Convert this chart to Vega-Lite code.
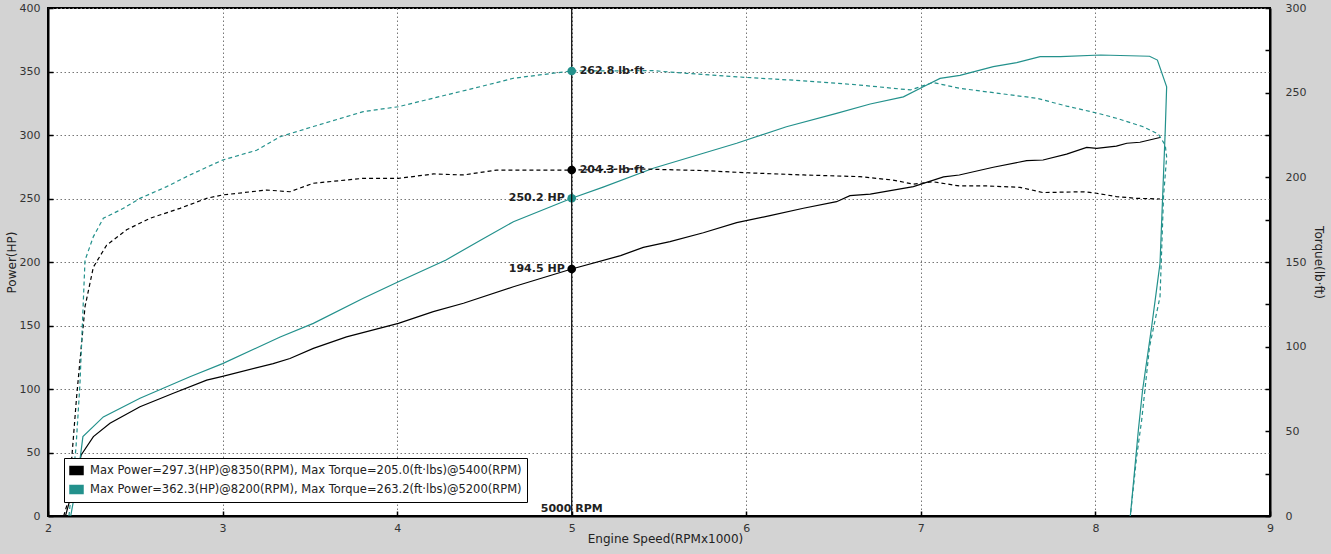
{
  "$schema": "https://vega.github.io/schema/vega-lite/v6.json",
  "width": 1222,
  "height": 508,
  "autosize": {"type": "none"},
  "padding": {"left": 48, "top": 8, "right": 61, "bottom": 38},
  "background": "#d3d3d3",
  "config": {
    "font": "DejaVu Sans",
    "view": {"fill": "white", "stroke": "black", "strokeWidth": 2},
    "axis": {
      "labelFontSize": 11,
      "labelColor": "#333333",
      "titleFontSize": 12,
      "titleFontWeight": "normal",
      "titleColor": "#222222",
      "domainColor": "black",
      "domainWidth": 2,
      "tickColor": "black",
      "tickWidth": 1.5,
      "gridColor": "#777777",
      "gridDash": [1.5, 2.5]
    },
    "legend": {
      "labelFontSize": 11.5,
      "labelColor": "#222222"
    }
  },
  "datasets": {
    "curves": [
      {"run": "A", "kind": "power", "i": 0, "rpm": 2.10, "value": 0},
      {"run": "A", "kind": "power", "i": 1, "rpm": 2.15, "value": 25},
      {"run": "A", "kind": "power", "i": 2, "rpm": 2.19, "value": 48},
      {"run": "A", "kind": "power", "i": 3, "rpm": 2.26, "value": 62.5},
      {"run": "A", "kind": "power", "i": 4, "rpm": 2.355, "value": 73},
      {"run": "A", "kind": "power", "i": 5, "rpm": 2.527, "value": 86},
      {"run": "A", "kind": "power", "i": 6, "rpm": 2.718, "value": 96.6},
      {"run": "A", "kind": "power", "i": 7, "rpm": 2.909, "value": 107},
      {"run": "A", "kind": "power", "i": 8, "rpm": 3.0, "value": 110},
      {"run": "A", "kind": "power", "i": 9, "rpm": 3.29, "value": 120},
      {"run": "A", "kind": "power", "i": 10, "rpm": 3.386, "value": 124},
      {"run": "A", "kind": "power", "i": 11, "rpm": 3.52, "value": 132},
      {"run": "A", "kind": "power", "i": 12, "rpm": 3.71, "value": 141},
      {"run": "A", "kind": "power", "i": 13, "rpm": 4.007, "value": 151.7},
      {"run": "A", "kind": "power", "i": 14, "rpm": 4.207, "value": 160.9},
      {"run": "A", "kind": "power", "i": 15, "rpm": 4.38, "value": 167.5},
      {"run": "A", "kind": "power", "i": 16, "rpm": 4.666, "value": 180.5},
      {"run": "A", "kind": "power", "i": 17, "rpm": 5.0, "value": 194.5},
      {"run": "A", "kind": "power", "i": 18, "rpm": 5.28, "value": 205},
      {"run": "A", "kind": "power", "i": 19, "rpm": 5.41, "value": 211.5},
      {"run": "A", "kind": "power", "i": 20, "rpm": 5.563, "value": 216},
      {"run": "A", "kind": "power", "i": 21, "rpm": 5.754, "value": 223},
      {"run": "A", "kind": "power", "i": 22, "rpm": 5.945, "value": 231},
      {"run": "A", "kind": "power", "i": 23, "rpm": 6.136, "value": 236.5},
      {"run": "A", "kind": "power", "i": 24, "rpm": 6.327, "value": 242.3},
      {"run": "A", "kind": "power", "i": 25, "rpm": 6.517, "value": 247.5},
      {"run": "A", "kind": "power", "i": 26, "rpm": 6.594, "value": 252.2},
      {"run": "A", "kind": "power", "i": 27, "rpm": 6.71, "value": 253.5},
      {"run": "A", "kind": "power", "i": 28, "rpm": 6.957, "value": 259.3},
      {"run": "A", "kind": "power", "i": 29, "rpm": 7.13, "value": 267},
      {"run": "A", "kind": "power", "i": 30, "rpm": 7.22, "value": 268.5},
      {"run": "A", "kind": "power", "i": 31, "rpm": 7.415, "value": 274.6},
      {"run": "A", "kind": "power", "i": 32, "rpm": 7.606, "value": 279.8},
      {"run": "A", "kind": "power", "i": 33, "rpm": 7.70, "value": 280.3},
      {"run": "A", "kind": "power", "i": 34, "rpm": 7.835, "value": 285},
      {"run": "A", "kind": "power", "i": 35, "rpm": 7.95, "value": 290.3},
      {"run": "A", "kind": "power", "i": 36, "rpm": 8.007, "value": 289.5},
      {"run": "A", "kind": "power", "i": 37, "rpm": 8.12, "value": 291.3},
      {"run": "A", "kind": "power", "i": 38, "rpm": 8.18, "value": 293.5},
      {"run": "A", "kind": "power", "i": 39, "rpm": 8.255, "value": 294.3},
      {"run": "A", "kind": "power", "i": 40, "rpm": 8.37, "value": 298},

      {"run": "A", "kind": "torque", "i": 0, "rpm": 2.09, "value": 0},
      {"run": "A", "kind": "torque", "i": 1, "rpm": 2.117, "value": 9.4},
      {"run": "A", "kind": "torque", "i": 2, "rpm": 2.164, "value": 70.5},
      {"run": "A", "kind": "torque", "i": 3, "rpm": 2.212, "value": 123.6},
      {"run": "A", "kind": "torque", "i": 4, "rpm": 2.26, "value": 147},
      {"run": "A", "kind": "torque", "i": 5, "rpm": 2.336, "value": 160},
      {"run": "A", "kind": "torque", "i": 6, "rpm": 2.45, "value": 169},
      {"run": "A", "kind": "torque", "i": 7, "rpm": 2.584, "value": 175.8},
      {"run": "A", "kind": "torque", "i": 8, "rpm": 2.756, "value": 181.7},
      {"run": "A", "kind": "torque", "i": 9, "rpm": 2.909, "value": 187.6},
      {"run": "A", "kind": "torque", "i": 10, "rpm": 3.0, "value": 189.6},
      {"run": "A", "kind": "torque", "i": 11, "rpm": 3.253, "value": 192.5},
      {"run": "A", "kind": "torque", "i": 12, "rpm": 3.386, "value": 191.5},
      {"run": "A", "kind": "torque", "i": 13, "rpm": 3.52, "value": 196.5},
      {"run": "A", "kind": "torque", "i": 14, "rpm": 3.806, "value": 199.4},
      {"run": "A", "kind": "torque", "i": 15, "rpm": 4.007, "value": 199.4},
      {"run": "A", "kind": "torque", "i": 16, "rpm": 4.21, "value": 202},
      {"run": "A", "kind": "torque", "i": 17, "rpm": 4.38, "value": 201.4},
      {"run": "A", "kind": "torque", "i": 18, "rpm": 4.57, "value": 204.3},
      {"run": "A", "kind": "torque", "i": 19, "rpm": 5.0, "value": 204.3},
      {"run": "A", "kind": "torque", "i": 20, "rpm": 5.37, "value": 205},
      {"run": "A", "kind": "torque", "i": 21, "rpm": 5.754, "value": 204},
      {"run": "A", "kind": "torque", "i": 22, "rpm": 6.0, "value": 202.7},
      {"run": "A", "kind": "torque", "i": 23, "rpm": 6.327, "value": 201.4},
      {"run": "A", "kind": "torque", "i": 24, "rpm": 6.65, "value": 200.4},
      {"run": "A", "kind": "torque", "i": 25, "rpm": 6.84, "value": 198.4},
      {"run": "A", "kind": "torque", "i": 26, "rpm": 6.957, "value": 196},
      {"run": "A", "kind": "torque", "i": 27, "rpm": 7.07, "value": 197.4},
      {"run": "A", "kind": "torque", "i": 28, "rpm": 7.22, "value": 194.9},
      {"run": "A", "kind": "torque", "i": 29, "rpm": 7.377, "value": 194.9},
      {"run": "A", "kind": "torque", "i": 30, "rpm": 7.568, "value": 194.1},
      {"run": "A", "kind": "torque", "i": 31, "rpm": 7.70, "value": 191},
      {"run": "A", "kind": "torque", "i": 32, "rpm": 7.93, "value": 191.5},
      {"run": "A", "kind": "torque", "i": 33, "rpm": 8.007, "value": 190.6},
      {"run": "A", "kind": "torque", "i": 34, "rpm": 8.12, "value": 188.6},
      {"run": "A", "kind": "torque", "i": 35, "rpm": 8.235, "value": 187.6},
      {"run": "A", "kind": "torque", "i": 36, "rpm": 8.37, "value": 187.2},

      {"run": "B", "kind": "power", "i": 0, "rpm": 2.13, "value": 0},
      {"run": "B", "kind": "power", "i": 1, "rpm": 2.17, "value": 30},
      {"run": "B", "kind": "power", "i": 2, "rpm": 2.2, "value": 62.5},
      {"run": "B", "kind": "power", "i": 3, "rpm": 2.317, "value": 78},
      {"run": "B", "kind": "power", "i": 4, "rpm": 2.527, "value": 92.7},
      {"run": "B", "kind": "power", "i": 5, "rpm": 2.813, "value": 109.7},
      {"run": "B", "kind": "power", "i": 6, "rpm": 3.0, "value": 120},
      {"run": "B", "kind": "power", "i": 7, "rpm": 3.33, "value": 141},
      {"run": "B", "kind": "power", "i": 8, "rpm": 3.52, "value": 151.7},
      {"run": "B", "kind": "power", "i": 9, "rpm": 3.806, "value": 171.4},
      {"run": "B", "kind": "power", "i": 10, "rpm": 4.007, "value": 184.5},
      {"run": "B", "kind": "power", "i": 11, "rpm": 4.28, "value": 201.6},
      {"run": "B", "kind": "power", "i": 12, "rpm": 4.475, "value": 217},
      {"run": "B", "kind": "power", "i": 13, "rpm": 4.666, "value": 231.7},
      {"run": "B", "kind": "power", "i": 14, "rpm": 5.0, "value": 250.2},
      {"run": "B", "kind": "power", "i": 15, "rpm": 5.18, "value": 259},
      {"run": "B", "kind": "power", "i": 16, "rpm": 5.467, "value": 273.8},
      {"run": "B", "kind": "power", "i": 17, "rpm": 5.754, "value": 285.6},
      {"run": "B", "kind": "power", "i": 18, "rpm": 5.945, "value": 293.5},
      {"run": "B", "kind": "power", "i": 19, "rpm": 6.23, "value": 306.5},
      {"run": "B", "kind": "power", "i": 20, "rpm": 6.517, "value": 317},
      {"run": "B", "kind": "power", "i": 21, "rpm": 6.71, "value": 324.4},
      {"run": "B", "kind": "power", "i": 22, "rpm": 6.9, "value": 330},
      {"run": "B", "kind": "power", "i": 23, "rpm": 7.014, "value": 338},
      {"run": "B", "kind": "power", "i": 24, "rpm": 7.11, "value": 344.6},
      {"run": "B", "kind": "power", "i": 25, "rpm": 7.224, "value": 347},
      {"run": "B", "kind": "power", "i": 26, "rpm": 7.415, "value": 353.8},
      {"run": "B", "kind": "power", "i": 27, "rpm": 7.549, "value": 357},
      {"run": "B", "kind": "power", "i": 28, "rpm": 7.683, "value": 361.7},
      {"run": "B", "kind": "power", "i": 29, "rpm": 7.8, "value": 361.7},
      {"run": "B", "kind": "power", "i": 30, "rpm": 8.03, "value": 363},
      {"run": "B", "kind": "power", "i": 31, "rpm": 8.31, "value": 362},
      {"run": "B", "kind": "power", "i": 32, "rpm": 8.355, "value": 359},
      {"run": "B", "kind": "power", "i": 33, "rpm": 8.408, "value": 338},
      {"run": "B", "kind": "power", "i": 34, "rpm": 8.40, "value": 304},
      {"run": "B", "kind": "power", "i": 35, "rpm": 8.37, "value": 199},
      {"run": "B", "kind": "power", "i": 36, "rpm": 8.35, "value": 178},
      {"run": "B", "kind": "power", "i": 37, "rpm": 8.322, "value": 149},
      {"run": "B", "kind": "power", "i": 38, "rpm": 8.27, "value": 99},
      {"run": "B", "kind": "power", "i": 39, "rpm": 8.246, "value": 67.7},
      {"run": "B", "kind": "power", "i": 40, "rpm": 8.2, "value": 0},

      {"run": "B", "kind": "torque", "i": 0, "rpm": 2.12, "value": 0},
      {"run": "B", "kind": "torque", "i": 1, "rpm": 2.16, "value": 40},
      {"run": "B", "kind": "torque", "i": 2, "rpm": 2.183, "value": 78},
      {"run": "B", "kind": "torque", "i": 3, "rpm": 2.212, "value": 151},
      {"run": "B", "kind": "torque", "i": 4, "rpm": 2.26, "value": 165},
      {"run": "B", "kind": "torque", "i": 5, "rpm": 2.317, "value": 175.8},
      {"run": "B", "kind": "torque", "i": 6, "rpm": 2.432, "value": 181.7},
      {"run": "B", "kind": "torque", "i": 7, "rpm": 2.527, "value": 187.6},
      {"run": "B", "kind": "torque", "i": 8, "rpm": 2.68, "value": 194.5},
      {"run": "B", "kind": "torque", "i": 9, "rpm": 2.813, "value": 201.4},
      {"run": "B", "kind": "torque", "i": 10, "rpm": 3.0, "value": 210.2},
      {"run": "B", "kind": "torque", "i": 11, "rpm": 3.195, "value": 216},
      {"run": "B", "kind": "torque", "i": 12, "rpm": 3.33, "value": 224},
      {"run": "B", "kind": "torque", "i": 13, "rpm": 3.52, "value": 230},
      {"run": "B", "kind": "torque", "i": 14, "rpm": 3.806, "value": 238.8},
      {"run": "B", "kind": "torque", "i": 15, "rpm": 4.007, "value": 241.7},
      {"run": "B", "kind": "torque", "i": 16, "rpm": 4.28, "value": 248.6},
      {"run": "B", "kind": "torque", "i": 17, "rpm": 4.475, "value": 253.5},
      {"run": "B", "kind": "torque", "i": 18, "rpm": 4.666, "value": 258.5},
      {"run": "B", "kind": "torque", "i": 19, "rpm": 4.857, "value": 261},
      {"run": "B", "kind": "torque", "i": 20, "rpm": 5.0, "value": 262.8},
      {"run": "B", "kind": "torque", "i": 21, "rpm": 5.467, "value": 263},
      {"run": "B", "kind": "torque", "i": 22, "rpm": 5.658, "value": 261.4},
      {"run": "B", "kind": "torque", "i": 23, "rpm": 6.0, "value": 259},
      {"run": "B", "kind": "torque", "i": 24, "rpm": 6.327, "value": 257},
      {"run": "B", "kind": "torque", "i": 25, "rpm": 6.65, "value": 254.5},
      {"run": "B", "kind": "torque", "i": 26, "rpm": 6.94, "value": 251.6},
      {"run": "B", "kind": "torque", "i": 27, "rpm": 7.07, "value": 256},
      {"run": "B", "kind": "torque", "i": 28, "rpm": 7.22, "value": 252.6},
      {"run": "B", "kind": "torque", "i": 29, "rpm": 7.415, "value": 250},
      {"run": "B", "kind": "torque", "i": 30, "rpm": 7.663, "value": 246.7},
      {"run": "B", "kind": "torque", "i": 31, "rpm": 7.835, "value": 242.1},
      {"run": "B", "kind": "torque", "i": 32, "rpm": 8.03, "value": 237.4},
      {"run": "B", "kind": "torque", "i": 33, "rpm": 8.12, "value": 234.9},
      {"run": "B", "kind": "torque", "i": 34, "rpm": 8.27, "value": 230},
      {"run": "B", "kind": "torque", "i": 35, "rpm": 8.36, "value": 225.6},
      {"run": "B", "kind": "torque", "i": 36, "rpm": 8.40, "value": 219},
      {"run": "B", "kind": "torque", "i": 37, "rpm": 8.408, "value": 212},
      {"run": "B", "kind": "torque", "i": 38, "rpm": 8.39, "value": 188.6},
      {"run": "B", "kind": "torque", "i": 39, "rpm": 8.37, "value": 129.5},
      {"run": "B", "kind": "torque", "i": 40, "rpm": 8.31, "value": 100},
      {"run": "B", "kind": "torque", "i": 41, "rpm": 8.265, "value": 56.7},
      {"run": "B", "kind": "torque", "i": 42, "rpm": 8.236, "value": 35},
      {"run": "B", "kind": "torque", "i": 43, "rpm": 8.2, "value": 0}
    ],
    "markers": [
      {"run": "A", "kind": "power", "rpm": 5, "value": 194.5, "label": "194.5 HP"},
      {"run": "B", "kind": "power", "rpm": 5, "value": 250.2, "label": "250.2 HP"},
      {"run": "A", "kind": "torque", "rpm": 5, "value": 204.3, "label": "204.3 lb·ft"},
      {"run": "B", "kind": "torque", "rpm": 5, "value": 262.8, "label": "262.8 lb·ft"}
    ],
    "cursor": [
      {"rpm": 5, "value": 0, "label": "5000 RPM"}
    ]
  },
  "resolve": {"scale": {"y": "independent"}},
  "layer": [
    {
      "layer": [
        {
          "data": {"name": "markers"},
          "transform": [{"filter": "datum.kind == 'power'"}],
          "mark": {"type": "point", "filled": true, "size": 75, "opacity": 1},
          "encoding": {
            "x": {
              "field": "rpm", "type": "quantitative",
              "scale": {"domain": [2, 9], "nice": false, "zero": false},
              "axis": {
                "orient": "bottom",
                "title": "Engine Speed(RPMx1000)",
                "values": [2, 2.5, 3, 3.5, 4, 4.5, 5, 5.5, 6, 6.5, 7, 7.5, 8, 8.5, 9],
                "format": "d",
                "labelExpr": "datum.value == 8.5 ? 'x10^3' : (datum.value % 1 == 0 ? datum.label : '')",
                "labelOverlap": false,
                "labelFlush": false,
                "tickSize": -5,
                "labelPadding": 11,
                "gridOpacity": {"condition": {"test": "datum.value % 1 == 0", "value": 1}, "value": 0},
                "titleX": 617,
                "titleY": 22,
                "titleBaseline": "middle",
                "titleAlign": "center"
              }
            },
            "y": {
              "field": "value", "type": "quantitative",
              "scale": {"domain": [0, 400], "nice": false},
              "axis": {
                "orient": "left",
                "title": "Power(HP)",
                "values": [0, 25, 50, 75, 100, 125, 150, 175, 200, 225, 250, 275, 300, 325, 350, 375, 400],
                "labelExpr": "datum.value % 50 == 0 ? datum.label : ''",
                "labelOverlap": false,
                "labelFlush": false,
                "tickSize": -5,
                "labelPadding": 13,
                "titlePadding": 1,
                "gridOpacity": {"condition": {"test": "datum.value % 50 == 0", "value": 1}, "value": 0}
              }
            },
            "color": {
              "field": "run", "type": "nominal",
              "scale": {"domain": ["A", "B"], "range": ["#000000", "#23918c"]},
              "legend": {
                "orient": "none",
                "legendX": 16,
                "legendY": 450,
                "title": null,
                "strokeColor": "black",
                "fillColor": "white",
                "padding": 5,
                "rowPadding": 4,
                "symbolType": "M-1,-0.6H1V0.6H-1Z",
                "symbolSize": 169,
                "labelOffset": 6,
                "labelExpr": "datum.value == 'A' ? 'Max Power=297.3(HP)@8350(RPM), Max Torque=205.0(ft·lbs)@5400(RPM)' : 'Max Power=362.3(HP)@8200(RPM), Max Torque=263.2(ft·lbs)@5200(RPM)'",
                "labelLimit": 600
              }
            }
          }
        },
        {
          "data": {"name": "curves"},
          "transform": [{"filter": "datum.kind == 'power'"}],
          "mark": {"type": "line", "strokeWidth": 1.2},
          "encoding": {
            "x": {"field": "rpm", "type": "quantitative"},
            "y": {"field": "value", "type": "quantitative"},
            "color": {"field": "run", "type": "nominal"},
            "order": {"field": "i", "type": "quantitative"}
          }
        },
        {
          "data": {"name": "cursor"},
          "mark": {"type": "rule", "color": "black", "strokeWidth": 1.2},
          "encoding": {
            "x": {"field": "rpm", "type": "quantitative"}
          }
        },
        {
          "data": {"name": "markers"},
          "transform": [{"filter": "datum.kind == 'power'"}],
          "mark": {"type": "text", "align": "right", "baseline": "middle", "dx": -7, "fontWeight": "bold", "fontSize": 11, "color": "#222222"},
          "encoding": {
            "x": {"field": "rpm", "type": "quantitative"},
            "y": {"field": "value", "type": "quantitative"},
            "text": {"field": "label", "type": "nominal"}
          }
        },
        {
          "data": {"name": "cursor"},
          "mark": {"type": "text", "align": "center", "baseline": "bottom", "dy": -2, "fontWeight": "bold", "fontSize": 11, "color": "#222222"},
          "encoding": {
            "x": {"field": "rpm", "type": "quantitative"},
            "y": {"field": "value", "type": "quantitative"},
            "text": {"field": "label", "type": "nominal"}
          }
        }
      ]
    },
    {
      "layer": [
        {
          "data": {"name": "curves"},
          "transform": [{"filter": "datum.kind == 'torque'"}],
          "mark": {"type": "line", "strokeWidth": 1.2, "strokeDash": [4, 3]},
          "encoding": {
            "x": {"field": "rpm", "type": "quantitative"},
            "y": {
              "field": "value", "type": "quantitative",
              "scale": {"domain": [0, 300], "nice": false},
              "axis": {
                "orient": "right",
                "title": "Torque(lb·ft)",
                "values": [0, 25, 50, 75, 100, 125, 150, 175, 200, 225, 250, 275, 300],
                "labelExpr": "datum.value % 50 == 0 ? datum.label : ''",
                "labelOverlap": false,
                "labelFlush": false,
                "tickSize": -5,
                "labelPadding": 20,
                "titlePadding": 6,
                "gridOpacity": {"condition": {"test": "datum.value % 50 == 0", "value": 1}, "value": 0}
              }
            },
            "color": {"field": "run", "type": "nominal"},
            "order": {"field": "i", "type": "quantitative"}
          }
        },
        {
          "data": {"name": "markers"},
          "transform": [{"filter": "datum.kind == 'torque'"}],
          "mark": {"type": "point", "filled": true, "size": 75, "opacity": 1},
          "encoding": {
            "x": {"field": "rpm", "type": "quantitative"},
            "y": {"field": "value", "type": "quantitative"},
            "color": {"field": "run", "type": "nominal"}
          }
        },
        {
          "data": {"name": "markers"},
          "transform": [{"filter": "datum.kind == 'torque'"}],
          "mark": {"type": "text", "align": "left", "baseline": "middle", "dx": 8, "fontWeight": "bold", "fontSize": 11, "color": "#222222"},
          "encoding": {
            "x": {"field": "rpm", "type": "quantitative"},
            "y": {"field": "value", "type": "quantitative"},
            "text": {"field": "label", "type": "nominal"}
          }
        }
      ]
    }
  ]
}
